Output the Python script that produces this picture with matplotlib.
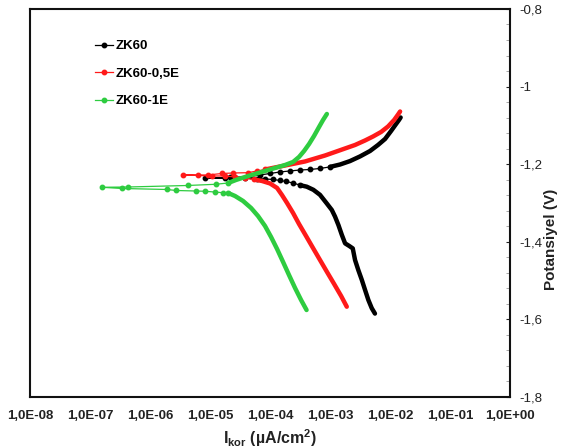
import matplotlib
matplotlib.use("Agg")
import matplotlib.pyplot as plt
from matplotlib.ticker import FixedLocator, FuncFormatter, MultipleLocator

plt.rcParams["font.family"] = ["Liberation Sans", "DejaVu Sans"]
plt.rcParams["mathtext.fontset"] = "custom"
plt.rcParams["mathtext.rm"] = "Liberation Sans:bold"
plt.rcParams["mathtext.default"] = "rm"

# ZK60 : cathodic branch, region around Ecorr, anodic branch (I, E)
zk60_cat_i = [5.6e-3, 4.95e-3, 4.35e-3, 3.83e-3, 3.38e-3, 2.96e-3, 2.61e-3, 2.39e-3, 2.10e-3,
              1.78e-3, 1.57e-3, 1.38e-3, 1.21e-3, 1.07e-3, 8.8e-4, 6.8e-4, 5.27e-4, 4.09e-4, 3.16e-4]
zk60_cat_e = [-1.585, -1.571, -1.550, -1.524, -1.498, -1.473, -1.447, -1.417, -1.411,
              -1.404, -1.382, -1.357, -1.335, -1.318, -1.301, -1.279, -1.266, -1.258, -1.254]
zk60_mid_i = [3.16e-4, 2.42e-4, 1.85e-4, 1.47e-4, 1.12e-4, 8.25e-5, 6.07e-5, 3.83e-5, 1.78e-5,
              8.25e-6, 2.15e-5, 4.64e-5, 6.8e-5, 1.0e-4, 1.47e-4, 2.15e-4, 3.16e-4, 4.64e-4,
              6.8e-4, 1.0e-3]
zk60_mid_e = [-1.254, -1.2485, -1.2446, -1.242, -1.2394, -1.2381, -1.2369, -1.236, -1.236,
              -1.2363, -1.2343, -1.2317, -1.2278, -1.224, -1.220, -1.2175, -1.215, -1.2137,
              -1.211, -1.207]
zk60_an_i = [1.0e-3, 1.47e-3, 2.15e-3, 3.16e-3, 4.64e-3, 6.3e-3, 8.26e-3, 1.04e-2, 1.26e-2,
             1.41e-2, 1.50e-2]
zk60_an_e = [-1.207, -1.2008, -1.192, -1.180, -1.166, -1.1505, -1.135, -1.1144, -1.0964,
             -1.086, -1.0796]

# ZK60-0,5E
zk605_cat_i = [1.90e-3, 1.53e-3, 1.17e-3, 8.9e-4, 6.8e-4, 5.2e-4, 3.98e-4, 3.04e-4, 2.42e-4,
               1.92e-4, 1.58e-4, 1.31e-4, 1.0e-4, 7.36e-5, 5.41e-5]
zk605_cat_e = [-1.5673, -1.5397, -1.5088, -1.4778, -1.4469, -1.416, -1.385, -1.3541, -1.3258,
               -1.300, -1.2794, -1.2613, -1.2497, -1.2433, -1.2394]
zk605_mid_i = [5.41e-5, 3.83e-5, 2.61e-5, 1.78e-5, 1.08e-5, 6.3e-6, 3.59e-6, 9.26e-6, 1.58e-5,
               2.42e-5, 4.3e-5, 6.07e-5, 8.25e-5]
zk605_mid_e = [-1.2394, -1.2356, -1.233, -1.2304, -1.2304, -1.2291, -1.2278, -1.2278, -1.224,
               -1.2227, -1.2219, -1.2175, -1.2137]
zk605_an_i = [8.25e-5, 1.21e-4, 1.78e-4, 2.61e-4, 3.83e-4, 5.62e-4, 8.25e-4, 1.21e-3, 1.78e-3,
              2.61e-3, 3.83e-3, 5.21e-3, 7.08e-3, 9.26e-3, 1.17e-2, 1.36e-2, 1.47e-2]
zk605_an_e = [-1.2137, -1.2085, -1.2034, -1.1982, -1.193, -1.1853, -1.1776, -1.1686, -1.1595,
              -1.1505, -1.1389, -1.1286, -1.117, -1.1028, -1.086, -1.0719, -1.0642]

# ZK60-1E
zk61_cat_i = [4.06e-4, 3.29e-4, 2.61e-4, 2.07e-4, 1.65e-4, 1.31e-4, 1.04e-4, 8.25e-5, 6.3e-5,
              4.83e-5, 3.55e-5, 2.61e-5, 2.0e-5]
zk61_cat_e = [-1.5758, -1.550, -1.519, -1.4856, -1.4521, -1.4186, -1.3876, -1.3593, -1.3335,
              -1.3129, -1.2948, -1.282, -1.2742]
zk61_mid_i = [2.0e-5, 1.63e-5, 1.19e-5, 8.25e-6, 5.84e-6, 2.71e-6, 1.92e-6, 3.35e-7, 1.57e-7,
              4.23e-7, 4.22e-6, 1.24e-5, 2.0e-5]
zk61_mid_e = [-1.2742, -1.2735, -1.2717, -1.2698, -1.2691, -1.2678, -1.2652, -1.2626, -1.2595,
              -1.2588, -1.2549, -1.2518, -1.2485]
zk61_an_i = [2.0e-5, 2.71e-5, 3.83e-5, 5.62e-5, 8.25e-5, 1.21e-4, 1.78e-4, 2.42e-4, 3.04e-4,
             3.69e-4, 4.47e-4, 5.41e-4, 6.56e-4, 7.64e-4, 8.85e-4]
zk61_an_e = [-1.2485, -1.2407, -1.233, -1.2253, -1.2175, -1.2098, -1.2021, -1.1943, -1.1814,
             -1.166, -1.148, -1.1273, -1.1041, -1.0861, -1.0706]

x_ticks = [1e-8, 1e-7, 1e-6, 1e-5, 1e-4, 1e-3, 1e-2, 1e-1, 1e0]

series = [
    ("ZK60", "#000000", zk60_cat_i, zk60_cat_e, zk60_mid_i, zk60_mid_e, zk60_an_i, zk60_an_e),
    ("ZK60-0,5E", "#ff1a1a", zk605_cat_i, zk605_cat_e, zk605_mid_i, zk605_mid_e, zk605_an_i, zk605_an_e),
    ("ZK60-1E", "#2ecc40", zk61_cat_i, zk61_cat_e, zk61_mid_i, zk61_mid_e, zk61_an_i, zk61_an_e),
]

fig = plt.figure(figsize=(5.63, 4.48), dpi=100)
ax = fig.add_axes([0.0533, 0.1138, 0.8527, 0.8662])

for name, col, ci, ce, mi, me, ai, ae in series:
    ax.plot(mi, me, color=col, lw=0.9, marker="o", ms=3.2, label=name)
    ax.plot(ci, ce, color=col, lw=3.2, solid_capstyle="round")
    ax.plot(ai, ae, color=col, lw=3.2, solid_capstyle="round")

ax.set_xscale("log")
ax.set_xlim(1e-8, 1e0)
ax.set_ylim(-1.8, -0.8)

ax.xaxis.set_major_locator(FixedLocator(x_ticks))
ax.xaxis.set_minor_locator(FixedLocator([]))
ax.xaxis.set_major_formatter(FuncFormatter(lambda v, p: ("%.1E" % v).replace(".", ",")))
ax.tick_params(axis="x", length=0, pad=9, labelsize=9.5)
for t in ax.get_xticklabels():
    t.set_fontweight("bold")
    t.set_color("#222222")

ax.yaxis.tick_right()
ax.yaxis.set_major_locator(MultipleLocator(0.2))
ax.yaxis.set_minor_locator(MultipleLocator(0.04))
ax.yaxis.set_major_formatter(FuncFormatter(lambda v, p: ("%g" % v).replace(".", ",")))
ax.tick_params(axis="y", which="major", length=3, width=0.8, direction="in", pad=7,
               labelsize=9.5, colors="#222222")
ax.tick_params(axis="y", which="minor", length=3, width=0.6, direction="in", color="#999999")

for s in ax.spines.values():
    s.set_linewidth(1.5)
    s.set_color("#111111")

fig.text(0.979, 0.465, "Potansiyel (V)", rotation=90, ha="center", va="center",
         fontsize=11, fontweight="bold", color="#222222")
ax.set_xlabel("I$_{kor}$ (µA/cm$^{2}$)", fontsize=11.5, fontweight="bold", labelpad=4,
              color="#222222")

ax.legend(loc="upper left", bbox_to_anchor=(0.11, 0.95), frameon=False, handlelength=1.4,
          handletextpad=0.2, labelspacing=1.15, prop={"weight": "bold", "size": 9.5})

fig.savefig("out.png", dpi=100)
